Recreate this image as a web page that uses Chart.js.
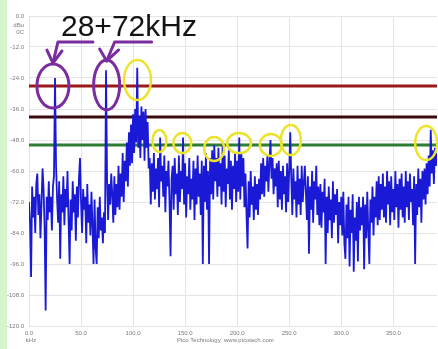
<!DOCTYPE html>
<html><head><meta charset="utf-8">
<script src="https://cdn.jsdelivr.net/npm/chart.js@4.4.1/dist/chart.umd.min.js"></script>
<style>html,body{margin:0;padding:0;background:#fff;overflow:hidden}canvas{display:block}</style>
</head><body>
<canvas id="c" width="438" height="349"></canvas>
<script>
// ---- data ----
const startKHz = 0;
const stepKHz = 1;
const spectrumDb = [
-72,-80,-101,-66,-78,-70,-84,-65,-61,-77,-69,-86,-73,-59,-67,-82,-114,-70,-79,-64,
-76,-70,-83,-66,-62,-24,-58,-71,-80,-64,-94,-69,-76,-62,-81,-67,-74,-60,-79,-96,
-71,-83,-64,-76,-69,-87,-66,-78,-63,-55,-72,-84,-67,-75,-70,-88,-65,-80,-73,-85,
-68,-81,-96,-71,-90,-96,-74,-86,-70,-83,-78,-88,-76,-84,-21,-63,-79,-65,-73,-61,
-69,-80,-62,-77,-65,-74,-58,-75,-61,-70,-53,-72,-56,-64,-49,-66,-45,-58,-42,-57,
-38,-53,-36,-49,-20,-51,-39,-55,-35,-48,-37,-56,-36,-51,-41,-59,-55,-73,-57,-68,
-53,-71,-59,-67,-55,-74,-47,-64,-58,-70,-54,-76,-60,-66,-56,-72,-93,-63,-58,-75,
-55,-69,-61,-77,-54,-72,-60,-67,-47,-73,-57,-78,-62,-69,-55,-75,-63,-71,-56,-79,
-59,-73,-54,-70,-61,-77,-56,-96,-58,-72,-53,-75,-60,-96,-55,-69,-52,-71,-50,-64,
-55,-70,-51,-66,-57,-73,-50,-68,-54,-74,-59,-65,-52,-71,-56,-75,-58,-67,-53,-72,
-56,-68,-47,-71,-53,-66,-55,-74,-61,-77,-90,-64,-78,-60,-73,-66,-79,-62,-75,-65,
-77,-63,-71,-57,-69,-55,-70,-58,-64,-54,-68,-57,-48,-63,-55,-69,-59,-66,-57,-74,
-56,-71,-60,-75,-58,-69,-62,-76,-57,-72,-60,-45,-63,-77,-59,-71,-64,-78,-58,-73,
-63,-77,-58,-72,-65,-58,-68,-79,-62,-92,-66,-75,-60,-80,-64,-71,-58,-77,-66,-81,
-65,-82,-68,-76,-63,-96,-70,-84,-66,-79,-71,-86,-64,-80,-69,-77,-67,-88,-72,-81,
-70,-85,-68,-88,-94,-73,-86,-70,-97,-75,-84,-69,-99,-78,-87,-72,-95,-70,-83,-74,
-81,-70,-98,-73,-86,-68,-83,-96,-71,-80,-66,-85,-70,-78,-64,-81,-62,-79,-65,-75,
-61,-78,-66,-80,-60,-73,-64,-81,-62,-76,-67,-79,-60,-74,-65,-82,-63,-75,-61,-78,
-66,-80,-60,-74,-64,-79,-61,-72,-67,-81,-62,-96,-65,-77,-59,-74,-63,-80,-60,-71,
-59,-73,-57,-69,-54,-66,-44,-61,-52,-65,-51,-58,-53
];
const xMinKHz = 0;
const xMaxKHz = 392;
const xTickValues = [0, 50, 100, 150, 200, 250, 300, 350];
const yTickValues = [0, -12, -24, -36, -48, -60, -72, -84, -96, -108, -120];
const refLevels = [-27.1, -39.1, -49.9];
const refColors = ['#9a1a1a', '#3c0b0b', '#2e7d34'];
const titleText = '28+72kHz';

// ---- annotations (hand-drawn marks on the screenshot) ----
const annotations = {
  purple: [ {f:23, db:-27.1, rx:16, ry:22}, {f:74.6, db:-26.7, rx:13, ry:25} ],
  yellow: [ {f:104.2, db:-24.8, rx:13.5, ry:20},
            {f:125.3, db:-48.4, rx:7, ry:11}, {f:147.3, db:-49.2, rx:9, ry:10},
            {f:177.9, db:-51.5, rx:10, ry:12}, {f:201.8, db:-49.2, rx:12, ry:10},
            {f:232.4, db:-49.9, rx:11, ry:11}, {f:251.6, db:-48.0, rx:10, ry:15},
            {f:381.6, db:-49.2, rx:11, ry:17} ]
};

const FONT = 'Liberation Sans, Arial, sans-serif';

const annot = {
  id: 'annot',
  beforeDraw(chart) {
    const ctx = chart.ctx;
    ctx.save();
    ctx.fillStyle = '#ffffff';
    ctx.fillRect(0, 0, chart.width, chart.height);
    ctx.fillStyle = '#d6f5cc';
    ctx.fillRect(0, 0, 7, chart.height);
    ctx.restore();
  },
  afterDraw(chart) {
    const ctx = chart.ctx, sx = chart.scales.x, sy = chart.scales.y;
    const px = f => sx.getPixelForValue(f), py = d => sy.getPixelForValue(d);
    ctx.save();
    ctx.fillStyle = '#7a7a7a';
    ctx.font = '6px ' + FONT;
    ctx.textAlign = 'right'; ctx.textBaseline = 'middle';
    ctx.fillText('dBu', 24, 25);
    ctx.fillText('0C', 24, 32);
    ctx.textAlign = 'center';
    ctx.fillText('kHz', 31, 340);
    ctx.textAlign = 'left';
    ctx.fillText('Pico Technology  www.picotech.com', 177, 340);

    ctx.lineWidth = 3;
    ctx.strokeStyle = '#7b2c9e';
    annotations.purple.forEach(e => {
      ctx.beginPath(); ctx.ellipse(px(e.f), py(e.db), e.rx, e.ry, 0, 0, Math.PI*2); ctx.stroke();
    });
    ctx.lineWidth = 2.5;
    ctx.strokeStyle = '#ece42c';
    annotations.yellow.forEach(e => {
      ctx.beginPath(); ctx.ellipse(px(e.f), py(e.db), e.rx, e.ry, 0, 0, Math.PI*2); ctx.stroke();
    });

    ctx.strokeStyle = '#7b2c9e';
    ctx.lineWidth = 3; ctx.lineCap = 'round'; ctx.lineJoin = 'round';
    const arrows = [
      {c: annotations.purple[0], tip:[0,-23], corner:[5,-44], end:[40,-44], h1:[-6,-36], h2:[9,-35]},
      {c: annotations.purple[1], tip:[0,-24], corner:[8,-43], end:[45,-43], h1:[-7,-36], h2:[12,-35]}
    ];
    arrows.forEach(a => {
      const cx = px(a.c.f), cy = py(a.c.db);
      ctx.beginPath();
      ctx.moveTo(cx+a.end[0], cy+a.end[1]);
      ctx.lineTo(cx+a.corner[0], cy+a.corner[1]);
      ctx.lineTo(cx+a.tip[0], cy+a.tip[1]);
      ctx.stroke();
      ctx.beginPath();
      ctx.moveTo(cx+a.h1[0], cy+a.h1[1]);
      ctx.lineTo(cx+a.tip[0], cy+a.tip[1]);
      ctx.lineTo(cx+a.h2[0], cy+a.h2[1]);
      ctx.stroke();
    });

    ctx.fillStyle = '#141414';
    ctx.font = '30px ' + FONT;
    ctx.textAlign = 'left'; ctx.textBaseline = 'alphabetic';
    ctx.fillText(titleText, 61, 36);
    ctx.restore();
  }
};

const tickFont = {size: 6, family: FONT};
new Chart(document.getElementById('c'), {
  type: 'line',
  data: {
    datasets: [
      {
        data: spectrumDb.map((v, i) => ({x: startKHz + i*stepKHz, y: v})),
        borderColor: '#1a1ad6', borderWidth: 1.8, pointRadius: 0, tension: 0, order: 0
      },
      ...refLevels.map((lvl, i) => ({
        data: [{x: xMinKHz, y: lvl}, {x: xMaxKHz, y: lvl}],
        borderColor: refColors[i], borderWidth: 3, pointRadius: 0, order: 1
      }))
    ]
  },
  options: {
    responsive: false, animation: false, devicePixelRatio: 1,
    layout: {padding: {top: 16, right: 1, left: 0, bottom: 0}},
    plugins: {legend: {display: false}, tooltip: {enabled: false}},
    scales: {
      x: {
        type: 'linear', min: xMinKHz, max: xMaxKHz,
        afterBuildTicks(s) { s.ticks = xTickValues.map(v => ({value: v})); },
        afterFit(s) { s.height = 23; },
        grid: {color: '#e4e4e4', drawTicks: false, lineWidth: 1},
        border: {display: false},
        ticks: {padding: 4, font: tickFont, color: '#7a7a7a', maxRotation: 0, autoSkip: false,
                callback: v => Number(v).toFixed(1)}
      },
      y: {
        type: 'linear', min: -120, max: 0,
        afterBuildTicks(s) { s.ticks = yTickValues.map(v => ({value: v})); },
        afterFit(s) { s.width = 29; },
        grid: {color: '#e4e4e4', drawTicks: false, lineWidth: 1},
        border: {display: false},
        ticks: {padding: 5, font: tickFont, color: '#7a7a7a', autoSkip: false,
                callback: v => Number(v).toFixed(1)}
      }
    }
  },
  plugins: [annot]
});
</script>
</body></html>
